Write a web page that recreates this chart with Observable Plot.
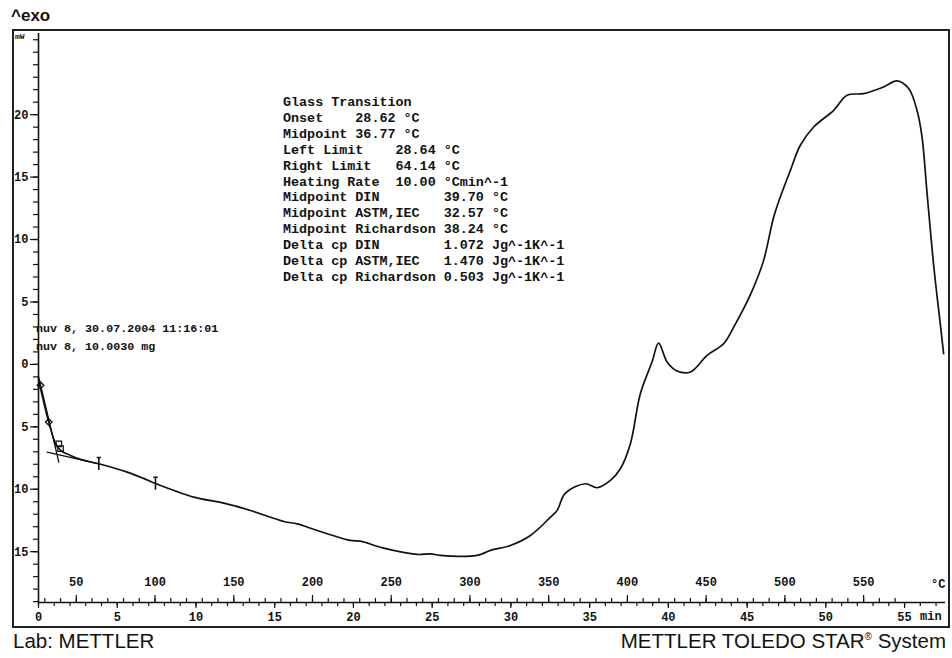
<!DOCTYPE html>
<html><head><meta charset="utf-8">
<script src="https://cdn.jsdelivr.net/npm/d3@7"></script>
<script src="https://cdn.jsdelivr.net/npm/@observablehq/plot@0.6"></script>
<style>
body{margin:0;background:#fff;}
#wrap{position:relative;width:952px;height:658px;overflow:hidden;font-family:"Liberation Mono",monospace;color:#111;}
#wrap svg{position:absolute;left:0;top:0;}
.frame{position:absolute;left:12px;top:29px;width:934px;height:595px;border:2px solid #222;pointer-events:none;}
.lbl{position:absolute;white-space:pre;}
.sans{font-family:"Liberation Sans",Arial,sans-serif;}
</style></head><body><div id="wrap"></div>
<script>
// ---- data ----
const timeMin = [0.00,0.06,0.23,0.65,1.08,1.40,2.03,2.67,3.83,5.63,6.67,7.43,9.86,11.77,13.46,15.58,16.43,17.70,19.81,20.44,21.92,24.04,24.89,25.52,27.85,28.70,29.97,31.24,32.51,32.93,33.46,34.73,35.47,36.32,36.95,37.59,38.22,38.96,39.38,39.92,40.55,41.40,42.46,43.51,44.15,44.78,45.42,46.05,46.69,47.11,47.75,48.38,49.23,50.50,51.35,52.40,53.67,54.52,55.26,55.79,56.11,56.43,56.86,57.29,57.48];
const heatFlow = [-1.00,-1.52,-2.48,-4.62,-6.33,-6.89,-7.29,-7.61,-7.96,-8.63,-9.13,-9.54,-10.63,-11.11,-11.70,-12.58,-12.77,-13.30,-14.10,-14.16,-14.72,-15.22,-15.17,-15.30,-15.30,-14.90,-14.50,-13.70,-12.24,-11.70,-10.31,-9.56,-9.88,-9.29,-8.36,-6.35,-2.35,0.19,1.71,0.19,-0.53,-0.61,0.72,1.66,2.99,4.46,6.19,8.33,11.80,13.41,15.54,17.55,19.01,20.35,21.55,21.69,22.22,22.70,22.09,20.35,18.20,13.70,7.80,3.00,0.86];

// glass-transition evaluation tangents
const steepTangentT = [0.05, 1.29];
const steepTangentV = [-1.2, -7.83];
const baseTangentT = [0.55, 3.83];
const baseTangentV = [-7.03, -7.96];

// evaluation markers
const diamondT = [0.13, 0.65];
const diamondV = [-1.68, -4.62];
const squareT = [1.29, 1.40];
const squareV = [-6.36, -6.75];
const barT = [3.83, 7.43];
const barV = [-7.96, -9.54];

// axes
const yMajorTicks = [-15,-10,-5,0,5,10,15,20];
const yMinorTicks = d3.range(-19, 27, 1);
const timeTickLabels = [0,5,10,15,20,25,30,35,40,45,50,55];
const timeMinorTicks = d3.range(0, 58, 1);
const tempTickLabels = [50,100,150,200,250,300,350,400,450,500,550];
const tempMinorTicks = d3.range(30, 580, 10);
const startTemp = 26;      // °C at t = 0
const heatingRate = 10;    // °C/min

const infoLines = [
  "Glass Transition",
  "Onset    28.62 °C",
  "Midpoint 36.77 °C",
  "Left Limit    28.64 °C",
  "Right Limit   64.14 °C",
  "Heating Rate  10.00 °Cmin^-1",
  "Midpoint DIN        39.70 °C",
  "Midpoint ASTM,IEC   32.57 °C",
  "Midpoint Richardson 38.24 °C",
  "Delta cp DIN        1.072 Jg^-1K^-1",
  "Delta cp ASTM,IEC   1.470 Jg^-1K^-1",
  "Delta cp Richardson 0.503 Jg^-1K^-1"
];
const sampleLines = ["nuv 8, 30.07.2004 11:16:01", "nuv 8, 10.0030 mg"];

// ---- build ----
const curve = timeMin.map((t,i)=>({t, v: heatFlow[i]}));
const steep = steepTangentT.map((t,i)=>({t, v: steepTangentV[i]}));
const base = baseTangentT.map((t,i)=>({t, v: baseTangentV[i]}));
const diamonds = diamondT.map((t,i)=>({t, v: diamondV[i]}));
const squares = squareT.map((t,i)=>({t, v: squareV[i]}));
const bars = barT.map((t,i)=>({t, v: barV[i]}));
const tempToTime = T => (T - startTemp) / heatingRate;

const W = 952, H = 658;
const mT = 33, mB = 56, mL = 38, mR = 7;
const innerH = H - mT - mB;
const yDom = [-19.07, 26.5];
const ink = "#111";
const tickFont = 12;

const vbar = {draw(ctx, size){ const h = Math.sqrt(size); ctx.moveTo(0,-h); ctx.lineTo(0,h); ctx.moveTo(-h*0.35,-h); ctx.lineTo(h*0.35,-h); }};

const chart = Plot.plot({
  width: W, height: H,
  marginTop: mT, marginBottom: mB, marginLeft: mL, marginRight: mR,
  style: {background: "transparent", fontFamily: "Liberation Mono, monospace", color: ink},
  x: {domain: [0, 57.6]},
  y: {domain: yDom},
  marks: [
    Plot.ruleX([0], {stroke: ink, strokeWidth: 1.6}),
    Plot.ruleY([yDom[0]], {stroke: ink, strokeWidth: 1.6}),
    Plot.axisY({ticks: yMinorTicks, tickSize: 5, tickFormat: () => "", label: null, stroke: ink, strokeWidth: 1.2}),
    Plot.axisY({ticks: yMajorTicks, tickSize: 8, tickPadding: 2, tickFormat: d => String(Math.abs(d)), label: null, fontSize: tickFont, fontWeight: "bold", stroke: ink, strokeWidth: 1.2}),
    Plot.axisX({ticks: timeMinorTicks, tickSize: 4, tickFormat: () => "", label: null, stroke: ink, strokeWidth: 1.2}),
    Plot.axisX({ticks: timeTickLabels, tickSize: 6, tickPadding: 4, label: null, fontSize: tickFont, fontWeight: "bold", stroke: ink, strokeWidth: 1.2}),
    Plot.ruleX(tempMinorTicks, {x: tempToTime, insetTop: innerH - 4, stroke: ink, strokeWidth: 1.2}),
    Plot.ruleX(tempTickLabels, {x: tempToTime, insetTop: innerH - 7, stroke: ink, strokeWidth: 1.2}),
    Plot.text(tempTickLabels, {x: tempToTime, frameAnchor: "bottom", dy: -17, text: d => String(d), fontSize: tickFont, fontWeight: "bold", fill: ink}),
    Plot.line(steep, {x: "t", y: "v", stroke: ink, strokeWidth: 1.3}),
    Plot.line(base, {x: "t", y: "v", stroke: ink, strokeWidth: 1.3}),
    Plot.line(curve, {x: "t", y: "v", stroke: ink, strokeWidth: 1.7, curve: "catmull-rom"}),
    Plot.dot(diamonds, {x: "t", y: "v", symbol: "diamond2", r: 3, stroke: ink, strokeWidth: 1.3}),
    Plot.dot(squares, {x: "t", y: "v", symbol: "square2", r: 3.5, stroke: ink, strokeWidth: 1.2}),
    Plot.dot(bars, {x: "t", y: "v", symbol: vbar, r: 3.5, stroke: ink, strokeWidth: 1.6})
  ]
});

const wrap = document.getElementById("wrap");
wrap.appendChild(chart);
const frame = document.createElement("div"); frame.className = "frame"; wrap.appendChild(frame);

function addLabel(text, css, cls) {
  const d = document.createElement("div");
  d.className = "lbl " + (cls || "");
  d.textContent = text;
  Object.assign(d.style, css);
  wrap.appendChild(d);
  return d;
}
addLabel("^exo", {left: "11px", top: "6px", fontSize: "17px", fontWeight: "bold"}, "sans");
addLabel("mW", {left: "15px", top: "32px", fontSize: "8px", fontWeight: "bold"});
addLabel(infoLines.join("\n"), {left: "283px", top: "95px", fontSize: "13.4px", lineHeight: "15.9px", fontWeight: "bold"});
addLabel(sampleLines.join("\n"), {left: "36px", top: "320px", fontSize: "11.7px", lineHeight: "18px", fontWeight: "bold"});
addLabel("°C", {left: "931px", top: "578px", fontSize: "12px", fontWeight: "bold"});
addLabel("min", {left: "920px", top: "610px", fontSize: "12px", fontWeight: "bold"});
addLabel("Lab: METTLER", {left: "13px", top: "629px", fontSize: "20.5px"}, "sans");
const r = addLabel("", {right: "6px", top: "629px", fontSize: "20.5px"}, "sans");
r.innerHTML = "METTLER TOLEDO STAR<sup style=\"font-size:10px\">®</sup> System";
</script></body></html>
